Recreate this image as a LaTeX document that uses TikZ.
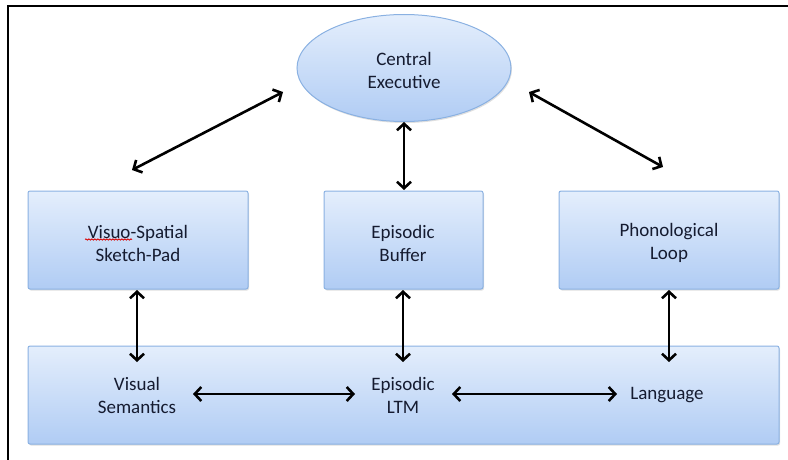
\documentclass[tikz,border=0pt]{standalone}
\usepackage{fontspec}
\setmainfont{Carlito}
\usetikzlibrary{arrows.meta,shadows,decorations.pathmorphing,shapes.geometric}
\definecolor{boxtop}{HTML}{E4EEFC}
\definecolor{boxbot}{HTML}{B0CCF4}
\definecolor{boxline}{HTML}{8AB1E2}
\definecolor{txt}{HTML}{151B30}
\tikzset{
  x=1pt, y=-1pt,
  box/.style={draw=boxline, line width=1pt, rounded corners=2pt,
    top color=boxtop, bottom color=boxbot,
    drop shadow={shadow xshift=1pt, shadow yshift=-1.5pt, opacity=0.25},
    inner sep=0pt},
  oval/.style={ellipse, draw=boxline, line width=1pt,
    top color=boxtop, bottom color=boxbot,
    drop shadow={shadow xshift=1pt, shadow yshift=-1.5pt, opacity=0.25},
    inner sep=0pt},
  lbl/.style={align=center, font=\fontsize{19}{23}\selectfont, text=txt, inner sep=1pt},
  biarrow/.style={{Straight Barb[length=6.5pt,width=14pt,line width=2.6pt]}-{Straight Barb[length=6.5pt,width=14pt,line width=2.6pt]}, line width=2.6pt, black},
  frameline/.style={line width=1.6pt, black}
}
\begin{document}
\begin{tikzpicture}
\useasboundingbox (0,0) rectangle (788,460);
% frame
\coordinate (ftr) at (788,6);
\coordinate (ftl) at (8,6);
\coordinate (fbl) at (8,460);
\draw[frameline] (ftr) -- (ftl) -- (fbl);

% nodes
\node[oval, minimum width=214pt, minimum height=107pt] (ce) at (404,68) {};
\node[box, minimum width=220pt, minimum height=98pt] (vs) at (138,240) {};
\node[box, minimum width=159pt, minimum height=98pt] (eb) at (403.5,240) {};
\node[box, minimum width=220pt, minimum height=98pt] (pl) at (669,240) {};
\node[box, minimum width=751pt, minimum height=98pt] (ltm) at (403.5,395) {};

\node[lbl] (cet) at (404,70) {Central\\Executive};
\node[lbl] (vst) at (138,243) {Visuo-Spatial\\Sketch-Pad};
\node[lbl] (ebt) at (403,243) {Episodic\\Buffer};
\node[lbl] (plt) at (669,243) {Phonological\\Loop};
\node[lbl] (vsem) at (137,395) {Visual\\Semantics};
\node[lbl] (eltm) at (403,395) {Episodic\\LTM};
\node[lbl] (lang) at (667,395) {Language};

% spell-check underline under "Visuo"
\coordinate (u1) at (85,239.5);
\coordinate (u2) at (132,239.5);
\draw[red!85!black, line width=0.8pt, decorate, decoration={snake, amplitude=0.7pt, segment length=3pt}] (u1) -- (u2);

% connector end points
\coordinate (a1) at (132,170);
\coordinate (a2) at (283,92);
\coordinate (b1) at (529,92);
\coordinate (b2) at (663,167);
\coordinate (s1) at (137,290);
\coordinate (s2) at (137,362);
\coordinate (e1) at (403,290);
\coordinate (e2) at (403,362);
\coordinate (p1) at (669,290);
\coordinate (p2) at (669,362);
\coordinate (c1) at (404,122);
\coordinate (c2) at (404,190);
\coordinate (h1) at (193,394);
\coordinate (h2) at (355,394);
\coordinate (h3) at (452,394);
\coordinate (h4) at (617,394);

\draw[biarrow] (a1) -- (a2);
\draw[biarrow] (b1) -- (b2);
\draw[biarrow] (c1) -- (c2);
\draw[biarrow] (s1) -- (s2);
\draw[biarrow] (e1) -- (e2);
\draw[biarrow] (p1) -- (p2);
\draw[biarrow] (h1) -- (h2);
\draw[biarrow] (h3) -- (h4);
\end{tikzpicture}
\end{document}
